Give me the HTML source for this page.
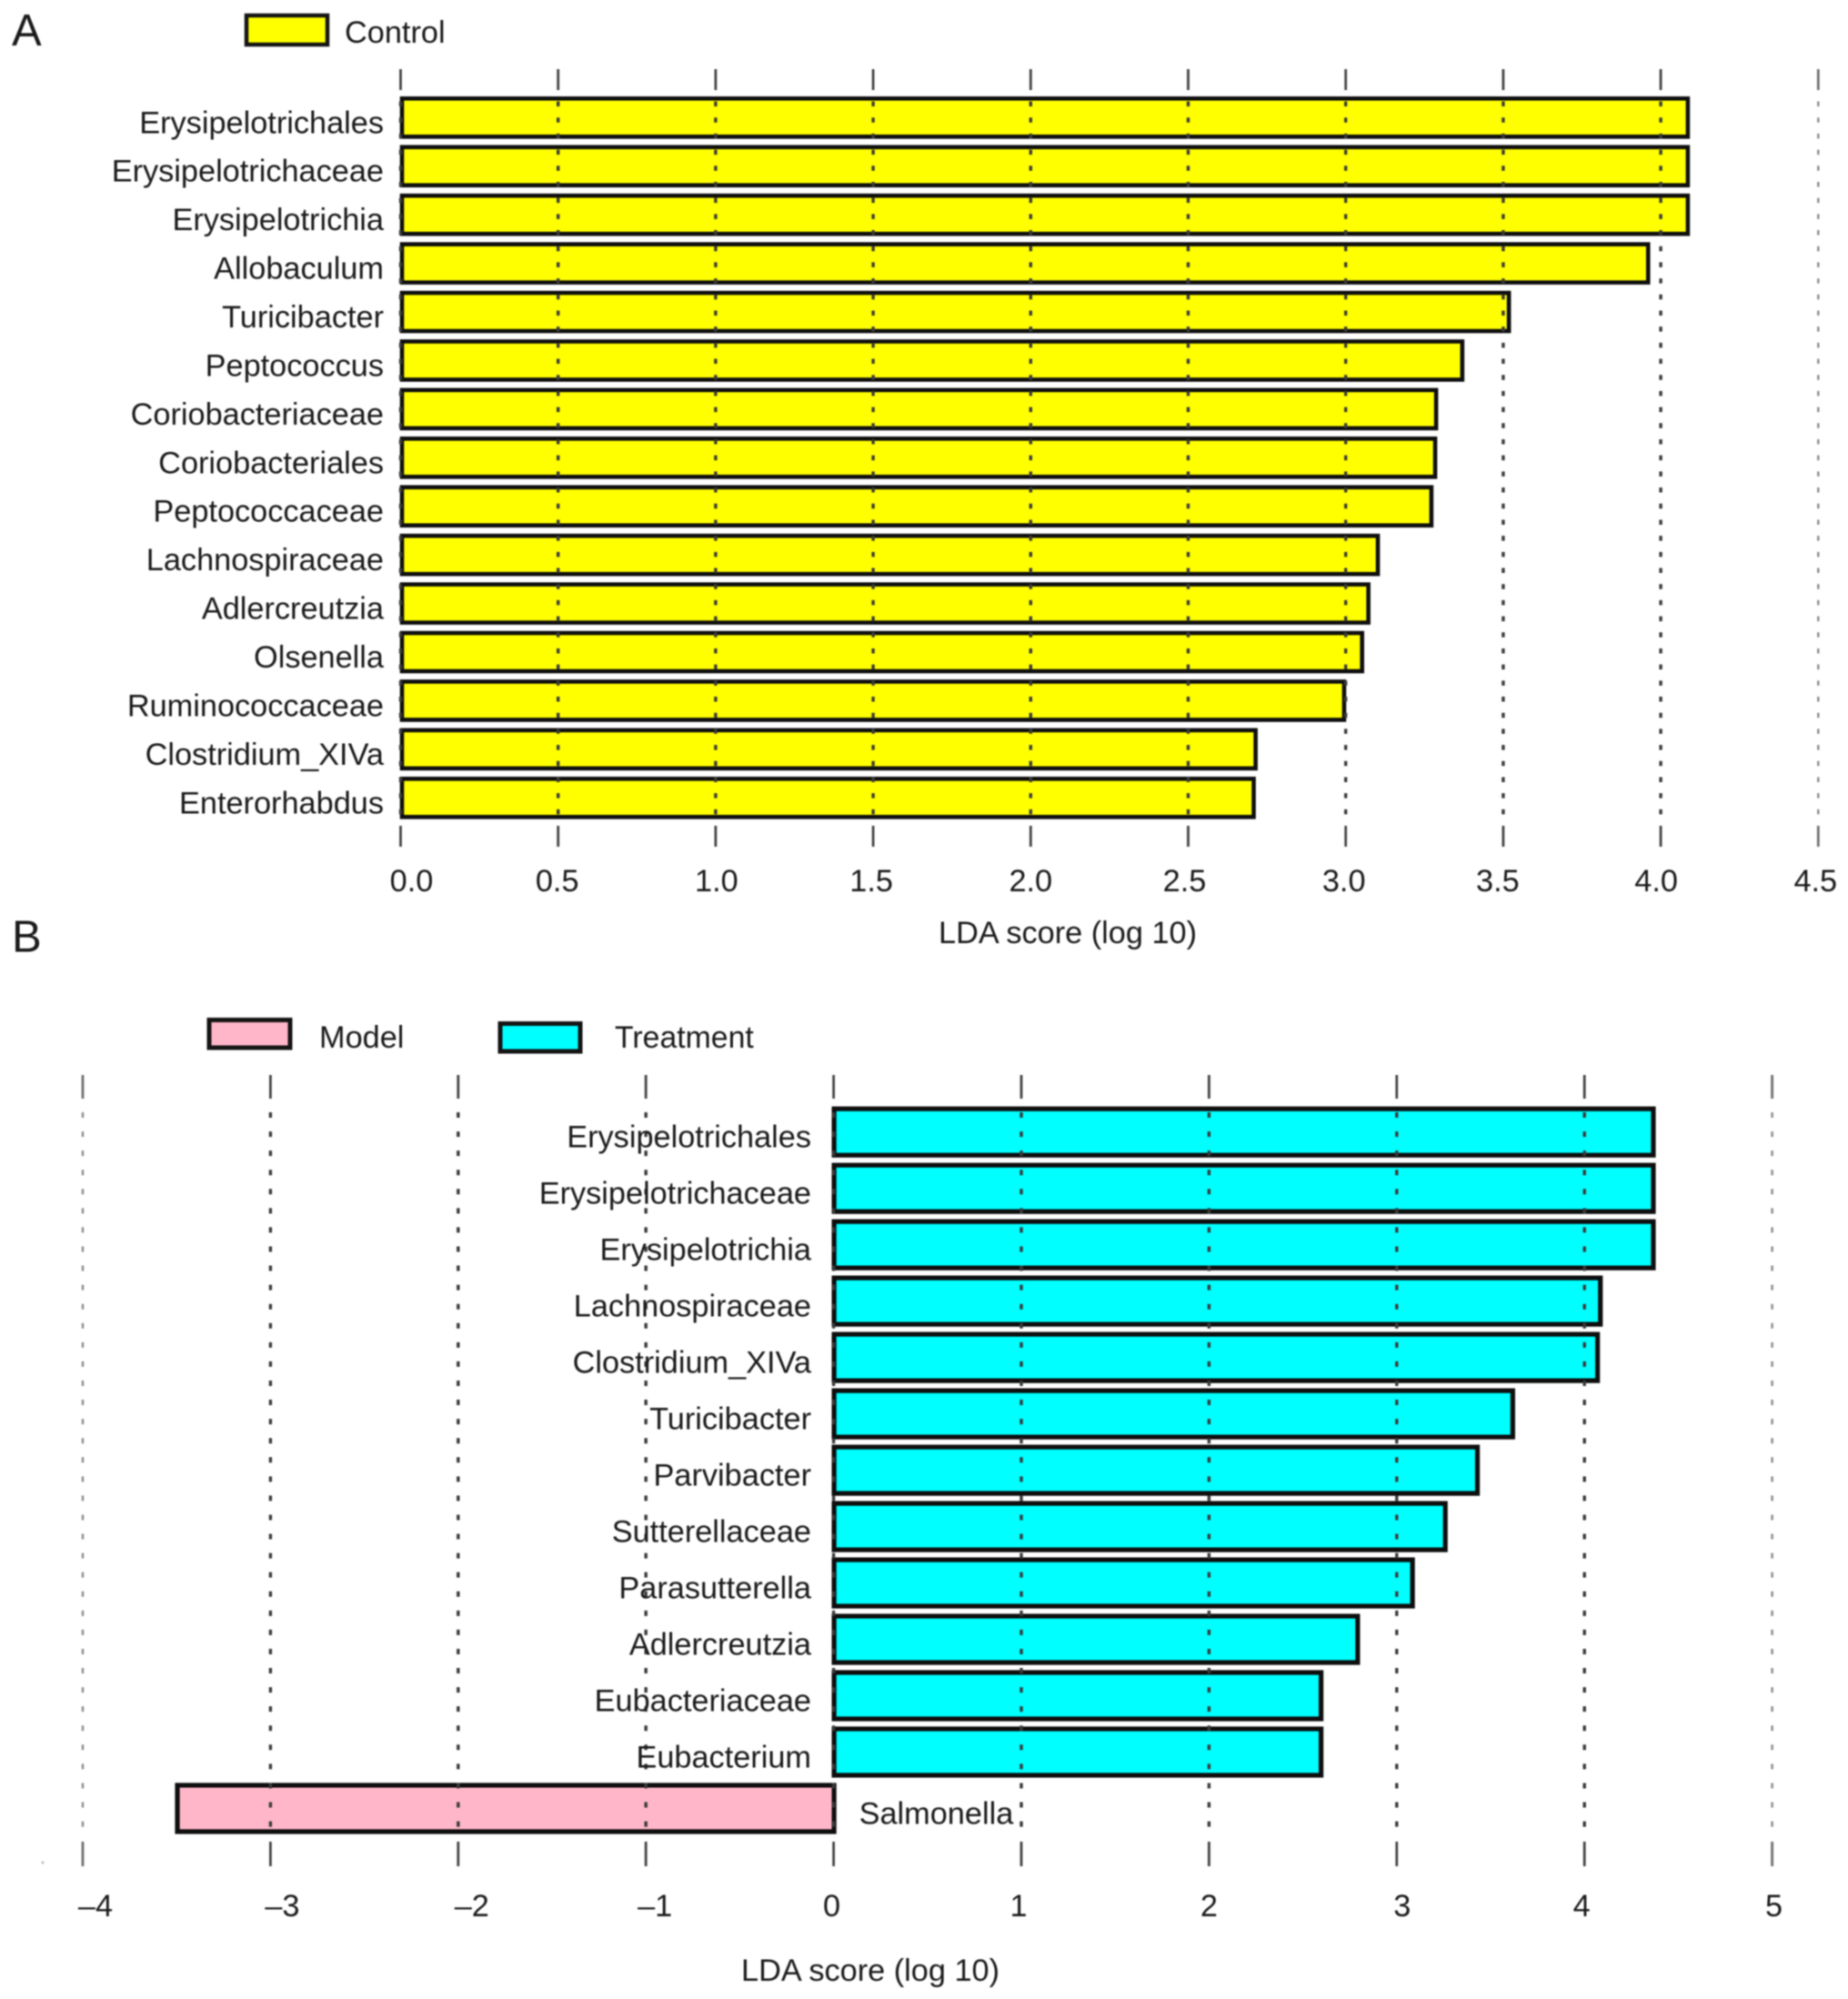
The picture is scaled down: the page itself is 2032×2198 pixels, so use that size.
<!DOCTYPE html>
<html lang="en">
<head>
<meta charset="utf-8">
<title>LDA score bar charts</title>
<style>
  html, body { margin: 0; padding: 0; background: #fff; }
  body { width: 2032px; height: 2198px; overflow: hidden; }
  svg { display: block; filter: blur(0.8px); }
  text { font-family: "Liberation Sans", Arial, sans-serif; fill: #1a1a1a; font-size: 34.3px; }
</style>
</head>
<body>
<svg id="figure" xmlns="http://www.w3.org/2000/svg" width="2032" height="2198" viewBox="0 0 2032 2198">
  <rect x="0" y="0" width="2032" height="2198" fill="#fff"/>
  <text x="13" y="50" style="font-size:49px">A</text>
  <text x="13" y="1046.5" style="font-size:49px">B</text>

  <g>
    <rect x="271" y="17" width="89" height="32" fill="#ffff00" stroke="#141414" stroke-width="4.5"/>
    <text x="379" y="47">Control</text>
  </g>
  <g>
    <rect x="230" y="1121.5" width="89" height="30.5" fill="#ffb6c8" stroke="#141414" stroke-width="5"/>
    <text x="351" y="1152">Model</text>
    <rect x="550" y="1125.5" width="88" height="30.5" fill="#00ffff" stroke="#141414" stroke-width="5"/>
    <text x="676" y="1152" style="font-size:33.8px">Treatment</text>
  </g>

  <text x="1032" y="1037">LDA score (log 10)</text>
  <text x="815" y="2178">LDA score (log 10)</text>
  <circle cx="47" cy="2048" r="1.5" fill="#bbb"/>

  <g id="panel-a"></g>
  <g id="panel-b"></g>
</svg>

<script>
// Panel A data
const categoriesA = ["Erysipelotrichales", "Erysipelotrichaceae", "Erysipelotrichia", "Allobaculum", "Turicibacter", "Peptococcus", "Coriobacteriaceae", "Coriobacteriales", "Peptococcaceae", "Lachnospiraceae", "Adlercreutzia", "Olsenella", "Ruminococcaceae", "Clostridium_XIVa", "Enterorhabdus"];
const valuesA = [4.086, 4.086, 4.086, 3.96, 3.518, 3.37, 3.287, 3.284, 3.272, 3.102, 3.072, 3.052, 2.995, 2.714, 2.708];
const ticksA = [0, 0.5, 1, 1.5, 2, 2.5, 3, 3.5, 4, 4.5];
const tickLabelsA = ["0.0", "0.5", "1.0", "1.5", "2.0", "2.5", "3.0", "3.5", "4.0", "4.5"];

// Panel B data
const categoriesB = ["Erysipelotrichales", "Erysipelotrichaceae", "Erysipelotrichia", "Lachnospiraceae", "Clostridium_XIVa", "Turicibacter", "Parvibacter", "Sutterellaceae", "Parasutterella", "Adlercreutzia", "Eubacteriaceae", "Eubacterium", "Salmonella"];
const valuesB = [4.367, 4.367, 4.367, 4.085, 4.07, 3.618, 3.43, 3.259, 3.084, 2.792, 2.597, 2.597, -3.496];
const ticksB = [-4, -3, -2, -1, 0, 1, 2, 3, 4, 5];
const tickLabelsB = ["\u20134", "\u20133", "\u20132", "\u20131", "0", "1", "2", "3", "4", "5"];

// Hand-placed tick label offsets seen in the figure (layout only, keyed by label)
const labelNudge = {
  a: {"0.0": 12, "0.5": -1, "1.0": 1, "1.5": -2, "2.0": 0, "2.5": -4, "3.0": -2, "3.5": -6, "4.0": -5, "4.5": -3},
  b: {"\u20134": 14, "\u20133": 13, "\u20132": 15, "\u20131": 10, "0": -2, "1": -3, "2": 0, "3": 6, "4": -3, "5": 2}
};

const NS = "http://www.w3.org/2000/svg";
function make(tag, attrs, parent, text) {
  const node = document.createElementNS(NS, tag);
  for (const key in attrs) node.setAttribute(key, attrs[key]);
  if (text !== undefined) node.textContent = text;
  parent.appendChild(node);
  return node;
}
function slug(s) {
  return String(s).toLowerCase().replace(/[^a-z0-9]+/g, "-");
}

function drawPanel(cfg) {
  const root = document.getElementById(cfg.id);
  const x = v => cfg.x0 + cfg.xPerUnit * v;
  const yCenter = i => cfg.firstCenter + cfg.step * i;

  // Bars
  cfg.categories.forEach((name, i) => {
    const v = cfg.values[i];
    const left = Math.min(x(0) + cfg.barInset, x(v));
    const right = Math.max(x(0) + cfg.barInset, x(v));
    const bar = make("rect", {
      x: left, y: yCenter(i) - cfg.barHeight / 2,
      width: right - left, height: cfg.barHeight,
      fill: v < 0 ? cfg.negColor : cfg.posColor,
      stroke: "#0e0e0e", "stroke-width": cfg.barStroke
    }, root);
    
    
  });

  // Gridlines and tick marks (drawn over the bars)
  cfg.ticks.forEach((t, i) => {
    const edge = i === cfg.ticks.length - 1 || (cfg.id === "panel-b" && i === 0);
    const grid = make("line", {
      x1: x(t), x2: x(t), y1: cfg.gridTop, y2: cfg.gridBottom,
      stroke: edge ? "#8a8a8a" : "#3a3a3a", "stroke-width": edge ? 2.4 : 3.4,
      "stroke-dasharray": cfg.dash
    }, root);
    
    

    const tickTop = make("line", {
      x1: x(t), x2: x(t), y1: cfg.tickTop[0], y2: cfg.tickTop[1],
      stroke: edge ? "#707070" : "#444", "stroke-width": 2.8
    }, root);
    
    

    const tickBottom = make("line", {
      x1: x(t), x2: x(t), y1: cfg.tickBottom[0], y2: cfg.tickBottom[1],
      stroke: edge ? "#707070" : "#444", "stroke-width": 2.8
    }, root);
    
    

    const label = cfg.tickLabels[i];
    const tickLabel = make("text", {
      x: x(t) + cfg.nudge[label], y: cfg.tickLabelY, "text-anchor": "middle"
    }, root, label);
    
    
  });

  // Category labels
  cfg.categories.forEach((name, i) => {
    const neg = cfg.values[i] < 0;
    const text = make("text", {
      x: neg ? x(0) + cfg.labelGapNeg : x(0) - cfg.labelGapPos,
      y: yCenter(i) + cfg.labelDy,
      "text-anchor": neg ? "start" : "end"
    }, root, name);
    
    
  });
}

drawPanel({
  id: "panel-a", categories: categoriesA, values: valuesA, ticks: ticksA, tickLabels: tickLabelsA,
  x0: 440.5, xPerUnit: 346.4, firstCenter: 129.3, step: 53.43,
  barHeight: 42, barStroke: 4.6, barInset: 1.5,
  posColor: "#ffff00", negColor: "#ffb6c8",
  gridTop: 111.5, gridBottom: 906, dash: "5.5 12.19",
  tickTop: [76, 99], tickBottom: [908, 931], tickLabelY: 980,
  nudge: labelNudge.a, labelGapPos: 18.5, labelGapNeg: 28, labelDy: 17
});

drawPanel({
  id: "panel-b", categories: categoriesB, values: valuesB, ticks: ticksB, tickLabels: tickLabelsB,
  x0: 916.6, xPerUnit: 206.4, firstCenter: 1244.7, step: 61.98,
  barHeight: 51, barStroke: 5.2, barInset: 0.5,
  posColor: "#00ffff", negColor: "#ffb6c8",
  gridTop: 1223, gridBottom: 2010, dash: "6 15.07",
  tickTop: [1182, 1208], tickBottom: [2025, 2052], tickLabelY: 2107,
  nudge: labelNudge.b, labelGapPos: 24.6, labelGapNeg: 28, labelDy: 17
});
</script>
</body>
</html>
